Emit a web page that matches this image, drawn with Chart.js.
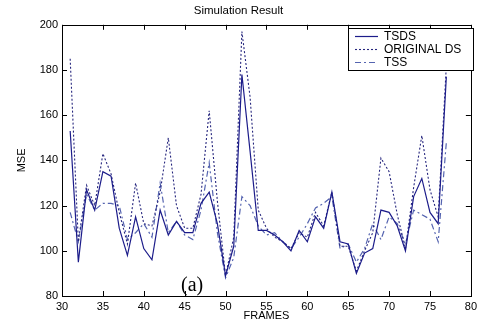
<!DOCTYPE html>
<html>
<head>
<meta charset="utf-8">
<script src="https://cdn.jsdelivr.net/npm/chart.js@4.4.1/dist/chart.umd.min.js"></script>
<style>
    body { margin: 0; background: #fff; }
    #wrap { width: 481px; height: 325px; }
</style>
</head>
<body>
<div id="wrap"><canvas id="c" width="481" height="325"></canvas></div>
<script>
// frame numbers (x axis)
const frames = [31, 32, 33, 34, 35, 36, 37, 38, 39, 40, 41, 42, 43, 44, 45, 46, 47, 48, 49, 50,
    51, 52, 53, 54, 55, 56, 57, 58, 59, 60, 61, 62, 63, 64, 65, 66, 67, 68, 69, 70,
    71, 72, 73, 74, 75, 76, 77]

// MSE per frame
const tsds = [153, 95, 127, 118, 135, 133, 110, 98, 115, 101, 96, 118, 107, 113, 108, 108, 121, 126, 112, 89,
    102, 178, 144, 109, 109, 107, 104, 100, 109, 104, 115, 110, 126, 104, 103, 90, 99, 101, 118, 117,
    111, 100, 124, 132, 117, 112, 177]
const originalDs = [185, 104, 129, 120, 143, 134, 117, 103, 130, 112, 111, 126, 150, 120, 110, 110, 125, 162, 122, 89,
    106, 197, 168, 118, 110, 106, 104, 101, 108, 106, 117, 111, 126, 102, 102, 91, 100, 108, 141, 135,
    116, 101, 128, 151, 127, 115, 182]
const tss = [117, 104, 125, 118, 121, 121, 120, 105, 108, 112, 106, 130, 108, 113, 107, 105, 118, 139, 108, 88,
    97, 124, 120, 111, 107, 108, 104, 101, 106, 112, 119, 121, 124, 101, 103, 95, 101, 112, 105, 115,
    112, 103, 118, 116, 114, 104, 148]

const xTicks = [30, 35, 40, 45, 50, 55, 60, 65, 70, 75, 80]
const yTicks = [80, 100, 120, 140, 160, 180, 200]

const toPoints = arr => arr.map((v, i) => ({ x: frames[i], y: v }))
const fontFam = '"Liberation Sans", Arial, sans-serif'

// box around the plot, inward ticks on all four sides, legend inside, "(a)" label
const matlabFrame = {
    id: 'matlabFrame',
    afterDraw(chart) {
        const ctx = chart.ctx
        const a = chart.chartArea
        const xs = chart.scales.x
        const ys = chart.scales.y
        ctx.save()
        ctx.strokeStyle = '#000'
        ctx.lineWidth = 1
        ctx.strokeRect(Math.round(a.left) + 0.5, Math.round(a.top) + 0.5,
            Math.round(a.right - a.left), Math.round(a.bottom - a.top))
        ctx.beginPath()
        xTicks.forEach(t => {
            let px = Math.round(xs.getPixelForValue(t)) + 0.5
            ctx.moveTo(px, a.bottom); ctx.lineTo(px, a.bottom - 5)
            ctx.moveTo(px, a.top); ctx.lineTo(px, a.top + 5)
        })
        yTicks.forEach(t => {
            let py = Math.round(ys.getPixelForValue(t)) + 0.5
            ctx.moveTo(a.left, py); ctx.lineTo(a.left + 5, py)
            ctx.moveTo(a.right, py); ctx.lineTo(a.right - 5, py)
        })
        ctx.stroke()

        // legend
        let lx = 348, ly = 28, lw = 125, lh = 42
        ctx.fillStyle = '#fff'
        ctx.fillRect(lx, ly, lw, lh)
        ctx.strokeStyle = '#000'
        ctx.strokeRect(lx + 0.5, ly + 0.5, lw, lh)
        chart.data.datasets.forEach((ds, i) => {
            let y = Math.round(ly + 8 + i * 13) + 0.5
            ctx.strokeStyle = ds.borderColor
            ctx.lineWidth = ds.borderWidth
            ctx.setLineDash(ds.borderDash || [])
            ctx.beginPath()
            ctx.moveTo(355, y); ctx.lineTo(378, y)
            ctx.stroke()
            ctx.setLineDash([])
            ctx.fillStyle = '#000'
            ctx.font = '12px ' + fontFam
            ctx.textBaseline = 'middle'
            ctx.fillText(ds.label, 384, y)
        })

        ctx.fillStyle = '#000'
        ctx.font = '20px "Liberation Serif", serif'
        ctx.textBaseline = 'alphabetic'
        ctx.fillText('(a)', 181, 291)
        ctx.restore()
    }
}

new Chart(document.getElementById('c'), {
    type: 'line',
    data: {
        datasets: [
            {
                label: 'TSDS',
                data: toPoints(tsds),
                borderColor: '#1c1c8a',
                borderWidth: 1.2,
                pointRadius: 0,
                tension: 0
            },
            {
                label: 'ORIGINAL DS',
                data: toPoints(originalDs),
                borderColor: '#26267e',
                borderWidth: 1.1,
                borderDash: [2, 2],
                pointRadius: 0,
                tension: 0
            },
            {
                label: 'TSS',
                data: toPoints(tss),
                borderColor: '#5564b0',
                borderWidth: 1.2,
                borderDash: [6, 3, 2, 3],
                pointRadius: 0,
                tension: 0
            }
        ]
    },
    options: {
        responsive: false,
        animation: false,
        layout: { padding: { left: 0, right: 4, top: 0, bottom: 0 } },
        plugins: {
            legend: { display: false },
            tooltip: { enabled: false },
            title: {
                display: true,
                text: 'Simulation Result',
                color: '#000',
                font: { family: fontFam, size: 11.5, weight: 'normal' },
                padding: { top: 4, bottom: 7 }
            }
        },
        scales: {
            x: {
                type: 'linear',
                min: 30,
                max: 80,
                afterBuildTicks: s => { s.ticks = xTicks.map(v => ({ value: v })) },
                afterFit: s => { s.height = 29 },
                grid: { display: false, drawTicks: false },
                border: { display: false },
                ticks: { color: '#000', padding: 4, font: { family: fontFam, size: 11 }, maxRotation: 0 },
                title: {
                    display: true,
                    text: 'FRAMES',
                    color: '#000',
                    font: { family: fontFam, size: 11 },
                    padding: { top: 0, bottom: 2 }
                }
            },
            y: {
                min: 80,
                max: 200,
                afterBuildTicks: s => { s.ticks = yTicks.map(v => ({ value: v })) },
                afterFit: s => { s.width = 62 },
                grid: { display: false, drawTicks: false },
                border: { display: false },
                ticks: { color: '#000', padding: 4, font: { family: fontFam, size: 11 } },
                title: {
                    display: true,
                    text: 'MSE',
                    color: '#000',
                    font: { family: fontFam, size: 11 },
                    padding: { top: 15, bottom: 0 }
                }
            }
        }
    },
    plugins: [matlabFrame]
})
</script>
</body>
</html>
